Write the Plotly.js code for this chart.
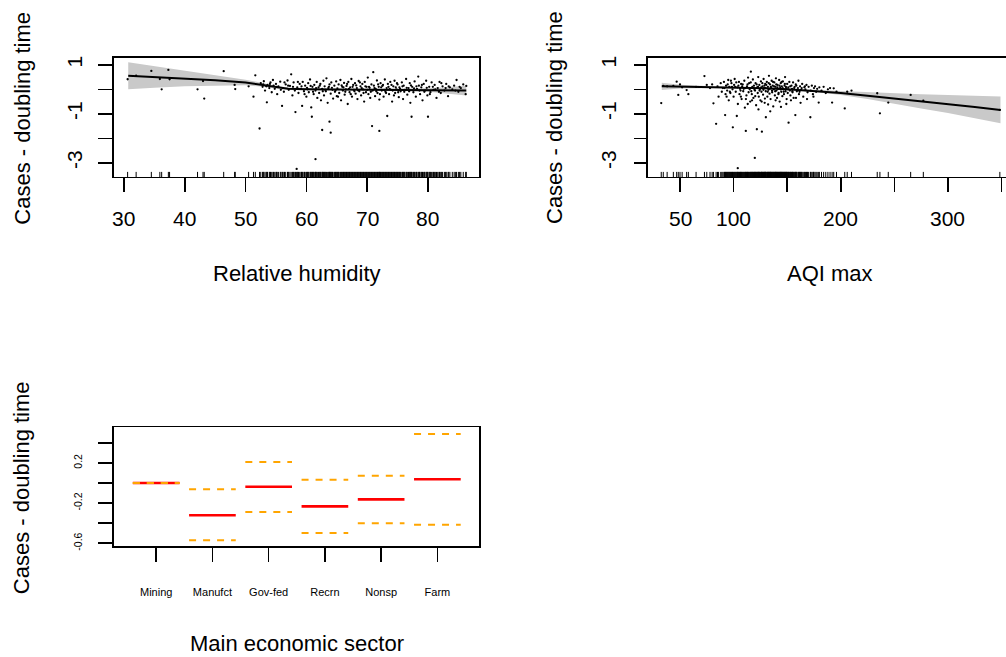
<!DOCTYPE html>
<html>
<head>
<meta charset="utf-8">
<script src="https://cdn.plot.ly/plotly-3.0.1.min.js"></script>
<style>
html,body{margin:0;padding:0;overflow:hidden;background:#fff;}
#chart{width:1030px;height:657px;}
</style>
</head>
<body>
<div id="chart"></div>
<script>
// ---------- Panel 1: Relative humidity ----------
var rhX = [30.6,32,34.5,35.9,36.2,37.3,37.5,42.1,43.0,43.2,46.4,48.2,48.3,50.5,51.3,51.6,
52.3,52.5,52.8,53.0,53.2,53.5,53.6,53.9,54.1,54.3,54.5,54.8,55.0,55.2,55.4,55.7,56.0,56.1,56.3,56.6,56.9,57.1,57.3,57.5,57.7,57.9,58.2,58.4,58.5,58.7,58.9,
59.1,59.3,59.4,59.6,59.8,60.0,60.1,60.3,60.4,60.6,60.8,60.9,61.0,61.2,61.3,61.5,61.5,61.7,61.8,62.0,62.1,62.3,62.4,62.6,62.6,62.8,62.9,63.0,63.2,63.3,63.5,63.6,63.8,63.8,64.0,64.0,64.1,64.3,64.4,64.6,64.7,64.9,65.0,
65.1,65.3,65.4,65.6,65.7,65.9,66.0,66.2,66.3,66.5,66.6,66.8,66.9,67.1,67.2,67.4,67.5,67.7,67.8,68.0,68.1,68.3,68.4,68.6,68.7,68.9,69.0,69.2,69.3,69.5,69.6,69.8,69.9,70.1,70.2,70.4,70.5,70.7,70.8,70.9,71.0,71.1,71.3,71.4,71.6,71.7,71.9,72.0,72.0,72.2,
72.4,72.5,72.7,72.9,73.0,73.2,73.3,73.4,73.6,73.8,73.9,74.1,74.3,74.5,74.6,74.8,75.0,75.2,75.3,75.5,75.7,75.9,76.0,76.2,76.4,76.6,76.8,77.0,77.1,77.3,77.4,77.6,77.8,78.0,78.2,78.4,78.5,78.7,78.9,79.1,79.3,79.5,79.7,79.9,80.0,
80.2,80.4,80.6,80.9,81.1,81.4,81.6,81.9,82.1,82.4,82.7,83.0,83.3,83.6,84.0,84.3,84.7,85.0,85.4,85.8,86.2,86.3,
59.2,59.7,60.2,60.7,61.1,61.6,62.2,62.7,63.1,63.7,64.2,64.8,65.2,65.8,66.1,66.4,66.7,67.0,67.3,67.6,67.9,68.2,68.5,68.8,69.1,69.4,69.7,70.0,70.3,70.6,71.2,71.5,71.8,72.1,72.3,72.6,72.8,73.1,73.5,73.7,74.0,74.2,74.4,74.7,74.9,75.1,75.4,75.8,76.1,76.5,76.9,77.2,77.7,78.1,78.6,79.0,79.4,79.8,80.3,80.8,81.2,81.8,82.2,82.9,83.4,84.5,85.2,57.8,58.1,58.6,57.0,56.4,55.8,55.1,54.6,54.0,53.4,52.9];
var rhY = [0.41,0.56,0.75,0.42,0.0,0.79,0.41,0.0,0.34,-0.38,0.74,0.18,0.01,0.12,-0.3,0.57,
-1.6,0.25,0.1,0.33,-0.05,-0.53,0.18,0.05,0.28,-0.12,0.38,0.02,0.22,-0.2,0.12,0.31,-0.68,0.05,-0.1,0.2,0.36,-0.02,0.14,0.61,-0.25,0.28,-0.93,-3.25,0.08,-0.15,0.22,
0.02,-0.68,0.3,-0.08,0.15,-0.3,0.06,0.25,-0.12,0.4,-0.74,-1.12,0.1,-0.2,0.18,-2.85,-0.05,0.3,-0.35,0.08,-0.15,0.22,-0.45,-1.66,0.02,0.35,-0.25,0.12,-0.08,0.45,-0.55,0.05,-1.32,0.2,-1.77,-0.18,0.28,-0.02,-0.38,0.15,-0.1,0.32,-0.28,
0.04,0.2,-0.15,0.38,-0.45,0.1,-0.05,0.26,-0.22,0.0,0.14,-0.6,0.3,-0.12,0.08,0.42,-0.3,0.18,-0.02,0.25,-0.18,0.05,-0.4,0.34,-0.08,0.12,-0.25,0.22,0.0,-0.5,0.3,-0.12,0.1,0.48,-0.2,0.06,-0.35,0.2,-1.5,-0.05,0.7,0.15,-0.28,0.02,0.36,-0.15,0.1,-1.7,-0.42,0.25,
-0.05,0.14,-0.3,0.4,-0.1,0.05,-1.09,0.22,-0.2,0.3,-0.02,-0.5,0.12,0.35,-0.15,0.0,0.2,-0.32,0.08,-0.08,0.28,-0.4,0.15,-0.02,0.42,-0.22,0.05,0.25,-0.55,-1.12,0.1,-0.12,0.32,-0.3,0.02,0.52,0.15,-0.2,0.08,-0.45,0.22,-0.05,0.35,-0.25,-1.12,
0.1,-0.12,0.28,-0.02,0.18,-0.35,0.05,0.3,-0.15,0.12,-0.05,0.22,-0.28,0.08,0.0,0.15,0.38,-0.1,0.05,0.2,-0.2,0.14,
0.12,-0.2,0.0,0.14,-0.1,0.05,0.15,-0.08,-0.02,0.1,0.06,-0.05,-0.3,0.16,0.08,-0.1,0.22,0.02,-0.2,0.1,-0.08,0.16,-0.04,0.28,0.05,-0.15,0.12,-0.02,0.1,-0.1,0.05,-0.08,0.2,-0.2,0.08,0.18,-0.02,-0.15,0.1,0.02,0.18,-0.05,-0.25,0.08,0.25,-0.12,0.02,0.12,-0.1,0.06,-0.08,0.16,0.04,0.12,-0.05,0.18,-0.1,0.06,-0.2,0.1,0.0,-0.1,0.25,0.05,0.12,-0.05,0.1,0.1,-0.05,0.3,0.15,0.28,-0.02,0.1,0.15,0.22,0.12,0.2];
var rhFitX   = [30.7,35,40,45,50,53,55,57,60,65,70,75,80,83,86.3];
var rhFit    = [0.55,0.50,0.44,0.37,0.28,0.17,0.08,0.02,0.0,-0.01,-0.01,-0.02,-0.03,-0.04,-0.05];
var rhUpper  = [1.10,0.94,0.76,0.58,0.39,0.25,0.14,0.07,0.04,0.02,0.02,0.02,0.04,0.08,0.15];
var rhLower  = [0.00,0.06,0.12,0.16,0.17,0.10,0.02,-0.03,-0.04,-0.04,-0.04,-0.06,-0.10,-0.16,-0.25];
var rhTicks  = [30,40,50,60,70,80];
var rhTickText = ['30','40','50','60','70','80'];

// ---------- Panel 2: AQI max ----------
var aqX = [32.5,34.4,38,43.8,46.9,48.4,50,52,56.2,57.8,65,72.8,75,78,80,81.2,83.7,85,86,88,89,
90,91,92.1,92.5,93,94,95,95.5,96,97,98,99,99.3,100,100.5,101,102,103,103.5,103.9,104,105,105.5,106,107,107.5,108,109,110,110.5,111,111.4,112,113,113.5,114,115,115.5,116,116.1,117,117.5,118,118.5,119,119.8,120,120.5,121,121.7,122,122.5,123,123.5,124,124.5,125,125.5,126,126.4,127,127.5,128,128.5,129,129.5,130,130.1,131,131.5,132,132.5,133,133.5,134,134.5,135,135.5,136,136.5,137,137.5,138,138.5,139,139.5,140,140.5,141,141.5,142,142.5,143,143.5,144,144.5,145,145.5,146,146.5,147,147.5,148,148.5,149,149.5,150,150.5,151,151.3,152,152.5,153,154,154.5,155,155.5,156,157,157.6,158,159,160,160.5,161,162,163,164,165,166,167,168,169,170,171.6,172,173,174,175,176,177,178,179.4,180,182,184,186,188,190,191.9,193.4,196,203.7,206,210,234,236.5,244.3,265.2,277,348.4,
101.5,104.5,106.5,108.5,109.5,112.5,114.5,116.5,118.2,119.5,121.5,122.8,124.2,125.8,126.8,127.8,128.8,129.8,130.5,131.8,132.8,133.8,134.8,135.8,136.8,137.8,138.8,139.8,140.8,141.8,142.8,143.8,144.8,145.8,146.8,147.8,148.8,150.8,152.8,154.8,156.5,158.5,161.5,163.5,166.5,98.5,96.5,94.5,93.5,91.5,97.5,102.5,106.8,111.5,113.2,117.2,120.2,123.2,126.2,129.2,132.2,134.2,139.2,144.2,149.2,153.5,158.2,162.5,168.5,174.5];
var aqY = [-0.56,0.14,0.12,0.14,0.31,-0.23,0.2,0.08,-0.03,-0.2,0.1,0.54,0.18,0.05,0.2,-0.57,-1.41,0.12,-0.3,0.25,-0.1,
0.05,0.3,-1.05,-0.2,0.15,-0.05,0.38,-0.45,0.1,-0.15,0.25,0.0,-1.55,-0.3,0.18,0.42,-0.1,-1.09,0.08,-3.22,-0.6,0.3,-0.2,0.02,0.22,-0.4,0.12,-0.08,0.35,-0.75,0.05,-1.7,-0.25,0.2,0.48,-0.12,0.0,-0.5,0.28,0.72,-0.2,0.1,0.4,-0.35,0.15,-2.8,-0.05,0.25,-0.65,-1.63,0.08,-0.15,0.5,-0.3,0.18,0.0,-0.45,0.32,-0.1,-1.73,0.12,-0.22,0.42,0.05,-0.55,0.22,-0.08,-1.14,0.3,-0.3,0.1,-0.02,0.55,-0.18,0.2,-0.4,0.05,0.35,-0.12,0.15,-0.7,0.0,0.28,-0.25,0.1,0.45,-0.05,-0.35,0.18,0.02,-0.15,0.38,-0.5,0.08,0.25,-0.1,0.12,-0.28,0.32,0.0,-0.2,0.15,0.5,-0.08,0.05,-0.4,0.22,-0.15,0.08,-1.36,0.3,-0.05,-0.25,0.15,0.02,-0.12,0.28,-0.35,0.1,-1.05,0.2,-0.08,0.05,0.35,-0.2,0.12,-0.02,0.22,-0.3,0.08,0.0,0.18,-0.12,0.1,-1.14,-0.05,0.15,-0.2,0.05,0.12,-0.1,0.02,-0.54,0.08,-0.05,0.1,-0.15,0.0,0.05,-0.54,0.04,-0.1,-0.78,-0.1,-0.05,-0.16,-0.98,-0.54,-0.23,-0.46,-0.84,
0.1,0.15,-0.05,0.2,0.02,0.12,0.25,-0.08,0.05,-0.02,0.2,0.1,-0.05,0.08,0.25,-0.02,0.15,0.05,0.18,-0.1,0.25,0.02,0.1,-0.05,0.3,0.12,-0.08,0.2,0.08,-0.2,0.15,0.0,0.3,0.05,-0.1,0.22,0.1,0.0,0.12,-0.08,0.05,0.15,-0.1,0.05,0.12,0.1,-0.1,0.2,-0.3,0.05,0.35,0.28,-0.3,-0.4,-0.6,-0.45,-0.28,-0.82,-0.5,-0.38,-0.62,-0.9,-0.45,-0.72,-0.6,-0.45,-0.35,-0.55,-0.4,-0.3];
var aqFitX  = [33,50,80,100,130,150,175,200,225,250,275,300,325,349];
var aqFit   = [0.12,0.11,0.09,0.07,0.04,0.0,-0.06,-0.15,-0.26,-0.37,-0.49,-0.60,-0.72,-0.84];
var aqUpper = [0.27,0.19,0.13,0.10,0.07,0.03,-0.02,-0.07,-0.12,-0.16,-0.20,-0.23,-0.26,-0.29];
var aqLower = [-0.03,0.03,0.05,0.04,0.01,-0.03,-0.10,-0.23,-0.40,-0.58,-0.78,-0.97,-1.18,-1.39];
var aqTicks = [50,100,150,200,250,300,350];
var aqTickText = ['50','100','','200','','300',''];

// ---------- Panel 3: Main economic sector ----------
var sectors  = ['Mining','Manufct','Gov-fed','Recrn','Nonsp','Farm'];
var estimate = [0, -0.322, -0.037, -0.233, -0.163, 0.037];
var ciUpper  = [0, -0.063, 0.209, 0.033, 0.073, 0.488];
var ciLower  = [0, -0.571, -0.289, -0.498, -0.402, -0.415];

// ---------- geometry helpers ----------
var W = 1030, H = 657;
function px(x){ return x / W; }
function py(y){ return 1 - y / H; }
var FONT = 'Liberation Sans, Arial, sans-serif';

function band(xs, up, lo, xa, ya){
  return {x: xs.concat(xs.slice().reverse()), y: up.concat(lo.slice().reverse()),
    type:'scatter', mode:'lines', fill:'toself', fillcolor:'#c9c9c9',
    line:{width:0, color:'#c9c9c9'}, xaxis:xa, yaxis:ya, hoverinfo:'skip'};
}
function pts(xs, ys, xa, ya){
  return {x: xs, y: ys, type:'scatter', mode:'markers',
    marker:{size:2.3, color:'#000'}, xaxis:xa, yaxis:ya};
}
function fit(xs, ys, xa, ya){
  return {x: xs, y: ys, type:'scatter', mode:'lines',
    line:{color:'#000', width:2}, xaxis:xa, yaxis:ya};
}
function rug(xs, yv, xa, ya){
  return {x: xs, y: xs.map(function(){return yv;}), type:'scatter', mode:'markers',
    marker:{symbol:'line-ns-open', size:4, color:'#000', line:{width:1, color:'#000'}},
    xaxis:xa, yaxis:ya, cliponaxis:false};
}

var topRange = [-3.567, 1.278];
var rugY = topRange[0] + 2/24.5;

var traces = [
  band(rhFitX, rhUpper, rhLower, 'x', 'y'),
  pts(rhX, rhY, 'x', 'y'),
  fit(rhFitX, rhFit, 'x', 'y'),
  rug(rhX, rugY, 'x', 'y'),
  band(aqFitX, aqUpper, aqLower, 'x2', 'y2'),
  pts(aqX, aqY, 'x2', 'y2'),
  fit(aqFitX, aqFit, 'x2', 'y2'),
  rug(aqX, rugY, 'x2', 'y2')
];

// sector segments
var half = 0.415;
var segX = [], segE = [], segU = [], segL = [];
for (var i = 0; i < sectors.length; i++) {
  var c = i + 1;
  segX.push(c - half, c + half, null);
  segE.push(estimate[i], estimate[i], null);
  segU.push(ciUpper[i], ciUpper[i], null);
  segL.push(ciLower[i], ciLower[i], null);
}
traces.push({x: segX, y: segE, type:'scatter', mode:'lines', line:{color:'#ff0000', width:2.6}, xaxis:'x3', yaxis:'y3', connectgaps:false});
traces.push({x: segX, y: segU, type:'scatter', mode:'lines', line:{color:'#ffa500', width:2, dash:'7px,7px'}, xaxis:'x3', yaxis:'y3', connectgaps:false});
traces.push({x: segX, y: segL, type:'scatter', mode:'lines', line:{color:'#ffa500', width:2, dash:'7px,7px'}, xaxis:'x3', yaxis:'y3', connectgaps:false});

var axBase = {showline:true, mirror:true, linecolor:'#000', linewidth:1.6,
  ticks:'outside', ticklen:14, tickwidth:1.6, tickcolor:'#000',
  showgrid:false, zeroline:false, fixedrange:true};
function ax(o){ var r = {}; for (var k in axBase) r[k] = axBase[k]; for (var k2 in o) r[k2] = o[k2]; return r; }

var topTickVals = [-3,-2,-1,0,1];
var topTickText = ['-3','','-1','','1'];

// x tick labels of the top panels, placed at the axis values
var annots = [];
function xLabels(vals, texts, xref, ypx){
  for (var j = 0; j < vals.length; j++) {
    if (!texts[j]) continue;
    annots.push({text:texts[j], xref:xref, yref:'paper', x:vals[j], y:py(ypx),
      showarrow:false, font:{size:21}, xanchor:'center', yanchor:'middle'});
  }
}
xLabels(rhTicks, rhTickText, 'x', 219);
xLabels(aqTicks, aqTickText, 'x2', 219);

annots.push(
  {text:'Cases - doubling time', xref:'paper', yref:'paper', x:px(21.7), y:py(118), textangle:-90, showarrow:false, font:{size:22}, xanchor:'center', yanchor:'middle'},
  {text:'Cases - doubling time', xref:'paper', yref:'paper', x:px(554), y:py(118), textangle:-90, showarrow:false, font:{size:22}, xanchor:'center', yanchor:'middle'},
  {text:'Cases - doubling time', xref:'paper', yref:'paper', x:px(21.7), y:py(487.5), textangle:-90, showarrow:false, font:{size:22}, xanchor:'center', yanchor:'middle'},
  {text:'Relative humidity', xref:'paper', yref:'paper', x:px(296.7), y:py(273), showarrow:false, font:{size:22}, xanchor:'center', yanchor:'middle'},
  {text:'AQI max', xref:'paper', yref:'paper', x:px(830), y:py(273), showarrow:false, font:{size:22}, xanchor:'center', yanchor:'middle'},
  {text:'Main economic sector', xref:'paper', yref:'paper', x:px(296.7), y:py(643), showarrow:false, font:{size:22}, xanchor:'center', yanchor:'middle'}
);

var layout = {
  width: W, height: H,
  margin:{l:0, r:0, t:0, b:0},
  paper_bgcolor:'#fff', plot_bgcolor:'#fff',
  showlegend:false,
  font:{family:FONT, color:'#000'},
  xaxis: ax({domain:[px(114), px(479)], range:[28.36, 88.39], anchor:'y',
    tickmode:'array', tickvals:rhTicks, showticklabels:false}),
  yaxis: ax({domain:[py(176.7), py(58)], range:topRange, anchor:'x',
    tickmode:'array', tickvals:topTickVals, ticktext:topTickText, tickangle:-90, tickfont:{size:21}, ticklabelstandoff:8}),
  xaxis2: ax({domain:[px(647.7), px(1014)], range:[19.87, 361.6], anchor:'y2',
    tickmode:'array', tickvals:aqTicks, showticklabels:false}),
  yaxis2: ax({domain:[py(176.7), py(58)], range:topRange, anchor:'x2', ticklen:12,
    tickmode:'array', tickvals:topTickVals, ticktext:topTickText, tickangle:-90, tickfont:{size:21}, ticklabelstandoff:10}),
  xaxis3: ax({domain:[px(114), px(479)], range:[0.25, 6.74], anchor:'y3',
    tickmode:'array', tickvals:[1,2,3,4,5,6], ticktext:sectors, tickfont:{size:11}, ticklabelstandoff:21}),
  yaxis3: ax({domain:[py(546), py(427.3)], range:[-0.628, 0.555], anchor:'x3',
    tickmode:'array', tickvals:[-0.6,-0.4,-0.2,0,0.2,0.4], ticktext:['-0.6','','-0.2','','0.2',''], tickangle:-90, tickfont:{size:10.5}, ticklabelstandoff:12}),
  annotations: annots
};

Plotly.newPlot('chart', traces, layout, {staticPlot:true, displayModeBar:false});
</script>
</body>
</html>
